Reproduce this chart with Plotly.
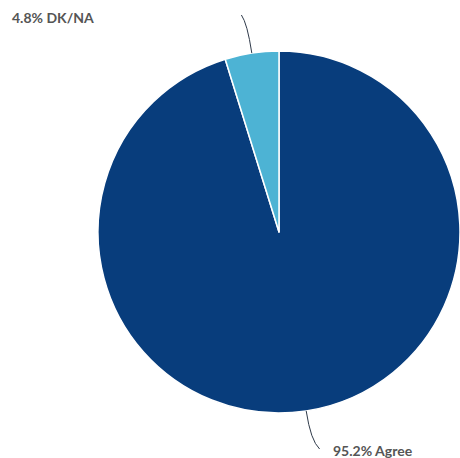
import math
import plotly.graph_objects as go

categories = ["Agree", "DK/NA"]
values = [95.2, 4.8]
colors = ["#083d7c", "#4db3d4"]

W, H = 460, 458
cx, cy, R = 279, 232, 181  # pixel geometry of pie

fig = go.Figure(go.Pie(
    labels=categories, values=values, sort=False, direction="clockwise", rotation=0,
    marker=dict(colors=colors, line=dict(color="white", width=1.5)),
    textinfo="none", hoverinfo="label+percent",
    domain=dict(x=[(cx - R) / W, (cx + R) / W], y=[(H - cy - R) / H, (H - cy + R) / H]),
    showlegend=False,
))

total = sum(values)
label_pos = {"DK/NA": (10, 17), "Agree": (331, 450)}
shapes, annotations = [], []
cum = 0
for cat, v in zip(categories, values):
    mid = (cum + v / 2) / total * 2 * math.pi
    cum += v
    s, c = math.sin(mid), -math.cos(mid)
    p0 = (cx + R * s, cy + R * c)
    ctrl = (cx + (R + 30) * s, cy + (R + 30) * c)
    lx, ly = label_pos[cat]
    if cat == "DK/NA":
        end = (cx + (R + 36) * s - 5, ly - 2)
    else:
        end = (cx + (R + 36) * s + 8, ly - 1)

    def px(p):
        return p[0] / W, 1 - p[1] / H

    a, b, e = px(p0), px(ctrl), px(end)
    shapes.append(dict(type="path", xref="paper", yref="paper",
                       path=f"M {a[0]},{a[1]} Q {b[0]},{b[1]} {e[0]},{e[1]}",
                       line=dict(color="#2f3a4a", width=1)))
    pct = v / total * 100
    annotations.append(dict(x=lx / W, y=1 - ly / H, xref="paper", yref="paper",
                            xanchor="left", yanchor="middle", showarrow=False,
                            text=f"<b>{pct:.1f}% {cat}</b>",
                            font=dict(family="Lato", size=14, color="#555555")))

fig.update_layout(width=W, height=H, margin=dict(l=0, r=0, t=0, b=0),
                  paper_bgcolor="white", plot_bgcolor="white",
                  shapes=shapes, annotations=annotations)
fig.write_html("out.html", config={"displayModeBar": False},
               post_script="document.body.style.margin='0';document.body.style.overflow='hidden';")
